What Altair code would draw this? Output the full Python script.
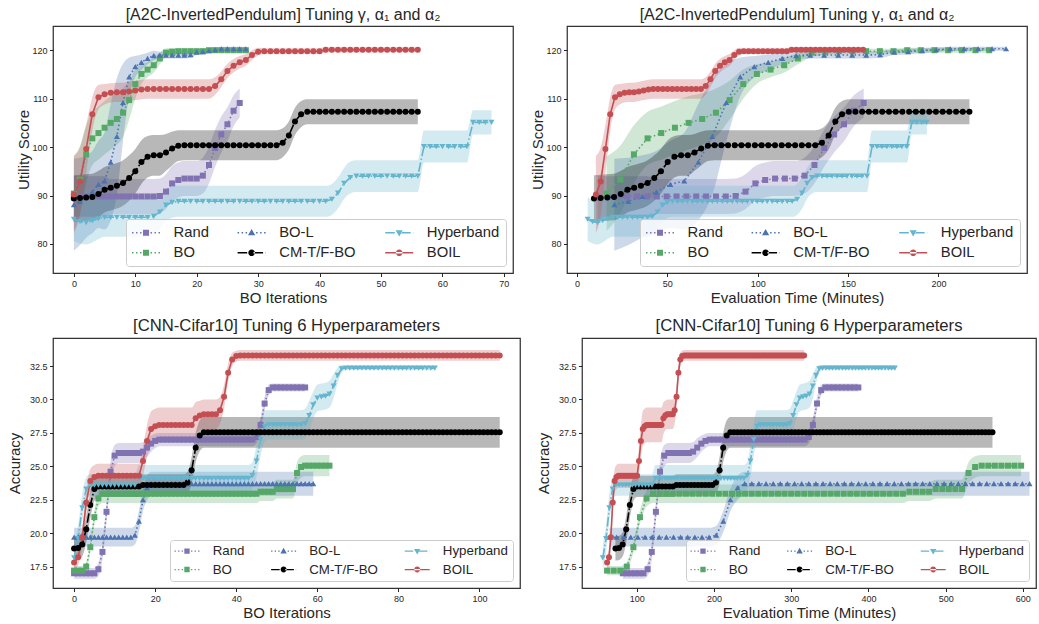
import altair as alt
import pandas as pd

FONT = "Liberation Sans"
INK = "#262626"

SERIES = ["Rand", "BO", "BO-L", "CM-T/F-BO", "Hyperband", "BOIL"]
COLORS = {"Rand": "#8172B2", "BO": "#55A868", "BO-L": "#4C72B0",
          "CM-T/F-BO": "#000000", "Hyperband": "#64B5CD", "BOIL": "#C44E52"}
MARKERS = {"Rand": "square", "BO": "square", "BO-L": "triangle-up",
           "CM-T/F-BO": "circle", "Hyperband": "triangle-down", "BOIL": "circle"}
DOT = [1.5, 2.5]
DASHDOT = [9.6, 2.4, 1.5, 2.4]
SOLID = [1, 0]
DASHES = {"Rand": DOT, "BO": DOT, "BO-L": DOT, "CM-T/F-BO": DASHDOT,
          "Hyperband": DASHDOT, "BOIL": SOLID}

# ---- values: (run length, mean, band half-width) ----
A2C_RAND = [(1, 89.6, 4.5), (5, 89.8, 4.2), (8, 89.8, 3.6), (1, 89.9, 3.6), (1, 90.8, 3.6),
            (1, 92.5, 3.6), (1, 93.2, 3.6), (3, 93.5, 3.6), (1, 94.1, 3.7), (1, 96.3, 3.8),
            (1, 99.8, 3.8), (1, 102.6, 3.7), (1, 104.7, 3.5), (1, 107.5, 3.2), (1, 109.1, 3.0)]
A2C_BO = [(1, 90.4, 7.7), (1, 93.3, 7.0), (1, 98.5, 6.0), (1, 101.8, 5.5), (1, 102.9, 5.5),
          (1, 104.0, 5.5), (1, 105.0, 5.5), (1, 105.8, 5.3), (1, 107.1, 5.0), (1, 109.7, 4.0),
          (1, 113.0, 3.0), (1, 115.1, 2.0), (1, 116.0, 1.6), (1, 116.9, 1.5), (1, 118.3, 1.2),
          (1, 119.5, 0.9), (1, 119.7, 0.7), (5, 119.8, 0.5), (7, 120.0, 0.5)]
A2C_BOL = [(1, 88.1, 9.5), (1, 88.8, 9.0), (1, 89.8, 8.5), (1, 90.7, 8.5), (1, 92.3, 9.0),
           (1, 93.0, 10.0), (1, 96.9, 12.0), (1, 102.2, 12.0), (1, 109.2, 8.0), (1, 114.5, 4.0),
           (1, 116.6, 2.2), (1, 117.5, 1.6), (1, 118.3, 1.2), (1, 118.9, 1.0), (5, 119.0, 0.7),
           (1, 119.1, 0.7), (1, 119.6, 0.6), (1, 119.7, 0.6), (1, 119.9, 0.5), (1, 120.1, 0.5),
           (5, 120.3, 0.4)]
A2C_CM = [(1, 89.4, 4.8), (1, 89.5, 4.8), (1, 89.6, 4.8), (1, 89.7, 4.8), (1, 90.3, 4.8),
          (1, 91.2, 4.7), (1, 91.6, 4.7), (1, 92.0, 4.7), (1, 92.6, 4.7), (1, 93.6, 4.7),
          (1, 95.0, 4.6), (1, 96.9, 4.5), (1, 98.0, 4.3), (2, 98.3, 4.2), (1, 98.9, 3.8),
          (1, 99.7, 3.5), (1, 100.3, 3.2), (16, 100.4, 3.1), (1, 100.9, 3.0), (1, 102.4, 2.9),
          (1, 105.3, 2.8), (1, 106.8, 2.7), (19, 107.3, 2.6)]
A2C_HB = [(1, 85.1, 4.5), (1, 84.6, 4.5), (1, 84.4, 4.5), (1, 84.8, 4.5), (1, 85.2, 4.2),
          (8, 85.5, 4.0), (1, 85.7, 3.8), (1, 86.6, 3.5), (1, 88.0, 3.3), (1, 88.6, 3.2),
          (25, 88.8, 3.2), (1, 89.2, 3.2), (1, 90.5, 3.2), (1, 92.5, 3.2), (1, 93.7, 3.3),
          (11, 94.0, 3.3), (8, 100.1, 3.3), (4, 105.1, 2.5)]
A2C_BOIL = [(1, 90.2, 8.0), (1, 92.9, 7.0), (1, 99.6, 5.0), (1, 106.8, 3.5), (1, 110.3, 2.5),
            (1, 110.9, 2.1), (1, 111.2, 2.0), (2, 111.3, 2.0), (1, 111.5, 2.0), (1, 111.7, 2.0),
            (1, 111.9, 2.0), (11, 112.0, 2.0), (1, 112.6, 1.8), (1, 114.0, 1.6), (1, 115.7, 1.5),
            (1, 116.8, 1.4), (1, 117.5, 1.3), (1, 118.0, 1.2), (1, 119.0, 1.0), (1, 119.7, 0.8),
            (10, 119.8, 0.6), (16, 120.1, 0.5)]

CNN_RAND = [(6, 17.0, 0.4), (1, 17.3, 0.5), (1, 18.6, 0.6), (1, 21.6, 0.7), (1, 24.6, 0.8),
            (1, 25.8, 0.8), (6, 26.0, 0.75), (1, 26.1, 0.7), (1, 26.4, 0.7), (1, 26.7, 0.6),
            (1, 26.9, 0.55), (24, 27.0, 0.5), (1, 27.2, 0.5), (1, 28.1, 0.55), (1, 29.7, 0.5),
            (1, 30.7, 0.4), (9, 30.9, 0.3)]
CNN_BO = [(3, 17.2, 0.35), (1, 17.5, 0.35), (1, 18.95, 0.4), (1, 21.2, 0.5), (1, 22.6, 0.6),
          (39, 22.95, 0.7), (4, 23.1, 0.7), (5, 23.3, 0.7), (1, 24.5, 0.8), (1, 24.95, 0.8),
          (7, 25.05, 0.8)]
CNN_BOL = [(15, 19.7, 0.7), (1, 19.85, 0.7), (1, 20.9, 0.8), (1, 22.5, 0.85), (1, 23.4, 0.9),
           (41, 23.7, 0.9)]
CNN_CM = [(1, 18.85, 0.9), (1, 18.9, 0.9), (1, 19.15, 0.9), (1, 20.3, 1.0), (1, 22.1, 1.0),
          (1, 23.3, 0.9), (11, 23.5, 0.8), (11, 23.6, 0.8), (1, 23.8, 0.8), (1, 24.7, 1.0),
          (1, 26.4, 1.1), (1, 27.3, 1.15), (74, 27.55, 1.15)]
CNN_HB = [(1, 18.15, 1.0), (1, 19.6, 1.0), (1, 21.9, 1.0), (1, 23.3, 0.9), (12, 23.6, 0.8),
          (28, 24.1, 1.0), (1, 24.3, 1.0), (1, 25.4, 1.2), (1, 27.0, 1.2), (1, 28.0, 1.2),
          (9, 28.1, 1.1), (1, 28.2, 1.1), (1, 28.8, 1.1), (1, 29.6, 1.0), (1, 30.1, 1.0),
          (1, 30.2, 1.0), (1, 30.25, 1.0), (1, 30.4, 1.0), (1, 31.0, 0.9), (1, 31.8, 0.6),
          (1, 32.3, 0.3), (23, 32.35, 0.15)]
CNN_BOIL = [(1, 17.8, 0.5), (1, 18.2, 0.6), (1, 19.7, 0.7), (1, 22.3, 0.8), (1, 23.9, 0.9),
            (1, 24.2, 0.9), (11, 24.3, 0.9), (1, 25.4, 1.1), (1, 26.9, 1.2), (1, 27.8, 1.3),
            (1, 28.0, 1.3), (9, 28.1, 1.3), (1, 28.6, 1.2), (1, 28.8, 1.1), (4, 28.9, 1.1),
            (1, 29.2, 1.0), (1, 30.2, 0.9), (1, 32.0, 0.7), (1, 33.0, 0.5), (1, 33.25, 0.4),
            (65, 33.3, 0.4)]

A2C = {"Rand": A2C_RAND, "BO": A2C_BO, "BO-L": A2C_BOL, "CM-T/F-BO": A2C_CM,
       "Hyperband": A2C_HB, "BOIL": A2C_BOIL}
CNN = {"Rand": CNN_RAND, "BO": CNN_BO, "BO-L": CNN_BOL, "CM-T/F-BO": CNN_CM,
       "Hyperband": CNN_HB, "BOIL": CNN_BOIL}

# evaluation time: minutes at first iteration and minutes per iteration
A2C_T0 = {"Rand": 11.5, "BO": 16.4, "BO-L": 20.7, "CM-T/F-BO": 9.4, "Hyperband": 5.9, "BOIL": 10.5}
A2C_DT = {"Rand": 5.45, "BO": 7.56, "BO-L": 7.74, "CM-T/F-BO": 3.71, "Hyperband": 2.76, "BOIL": 2.64}
CNN_T0 = {"Rand": 82.0, "BO": 61.6, "BO-L": 64.6, "CM-T/F-BO": 72.4, "Hyperband": 56.0, "BOIL": 61.6}
CNN_DT = {"Rand": 5.35, "BO": 8.51, "BO-L": 9.22, "CM-T/F-BO": 4.65, "Hyperband": 4.25, "BOIL": 2.43}


def build(segs_by_series, t0=None, dt=None):
    rows = []
    for s in SERIES:
        i = 0
        for n, v, hw in segs_by_series[s]:
            for _ in range(n):
                x = i if t0 is None else t0[s] + dt[s] * i
                rows.append(dict(series=s, x=x, y=v, lo=v - hw, hi=v + hw))
                i += 1
    return pd.DataFrame(rows)


# ---- legend glyphs: line style + marker as one filled path spanning x in [-2, 2] ----
def rects(segs, t=0.107):
    return " ".join(f"M{a:.3f},{-t} H{b:.3f} V{t} H{a:.3f} Z" for a, b in segs)


DOT_SEGS = [(s, s + 0.214) for s in (-2.0, -1.429, -0.857, 0.643, 1.214, 1.786)]
DASHDOT_SEGS = [(-2.0, -0.629), (0.271, 1.643), (1.971, 2.0)]
SOLID_SEGS = [(-2.0, 2.0)]
M_SQUARE = "M-0.429,-0.429 H0.429 V0.429 H-0.429 Z"
M_CIRCLE = "M-0.471,0 A0.471,0.471 0 1,0 0.471,0 A0.471,0.471 0 1,0 -0.471,0 Z"
M_TUP = "M0,-0.543 L0.514,0.357 L-0.514,0.357 Z"
M_TDOWN = "M0,0.543 L0.514,-0.357 L-0.514,-0.357 Z"
LEGEND_PATHS = {
    "Rand": rects(DOT_SEGS) + " " + M_SQUARE,
    "BO": rects(DOT_SEGS) + " " + M_SQUARE,
    "BO-L": rects(DOT_SEGS) + " " + M_TUP,
    "CM-T/F-BO": rects(DASHDOT_SEGS) + " " + M_CIRCLE,
    "Hyperband": rects(DASHDOT_SEGS) + " " + M_TDOWN,
    "BOIL": rects(SOLID_SEGS) + " " + M_CIRCLE,
}


def make_legend(font_size, sym_size, sym_off, lab_off, col_pad, row_pad, pad):
    return alt.Legend(title=None, orient="bottom-right", offset=7, columns=3, gridAlign="each",
                      labelFont=FONT, labelFontSize=font_size, labelColor=INK, labelLimit=400,
                      symbolSize=sym_size, symbolOffset=sym_off, labelOffset=lab_off,
                      symbolStrokeWidth=0, symbolOpacity=1,
                      columnPadding=col_pad, rowPadding=row_pad, padding=pad,
                      fillColor="rgba(255,255,255,0.8)", strokeColor="#cccccc",
                      cornerRadius=3)


def panel(df, title, title_size, xdom, xticks, xtitle, ydom, yticks, yfmt, ytitle, ytpad,
          w, h, legend):
    xs = alt.Scale(domain=xdom, nice=False, zero=False)
    ys = alt.Scale(domain=ydom, nice=False, zero=False)
    xax = alt.Axis(values=xticks, format="d", title=xtitle, titlePadding=2)
    yax = alt.Axis(values=yticks, format=yfmt, title=ytitle, titlePadding=ytpad)
    X = alt.X("x:Q", scale=xs, axis=xax)
    cscale = alt.Scale(domain=SERIES, range=[COLORS[s] for s in SERIES])
    C = alt.Color("series:N", scale=cscale, legend=None)
    base = alt.Chart(df)
    band = base.mark_area(opacity=0.28, interpolate="monotone", clip=True).encode(
        x=X, y=alt.Y("lo:Q", scale=ys, axis=yax), y2="hi:Q", color=C)
    line = base.mark_line(strokeWidth=1.6, clip=True).encode(
        x=X, y=alt.Y("y:Q", scale=ys, axis=yax), color=C,
        strokeDash=alt.StrokeDash("series:N", legend=None,
                                  scale=alt.Scale(domain=SERIES, range=[DASHES[s] for s in SERIES])))
    pts = base.mark_point(filled=True, size=36, opacity=1, clip=True).encode(
        x=X, y=alt.Y("y:Q", scale=ys, axis=yax), color=C,
        shape=alt.Shape("series:N", legend=None,
                        scale=alt.Scale(domain=SERIES, range=[MARKERS[s] for s in SERIES])))
    first = df.groupby("series", as_index=False).first()
    leg = alt.Chart(first).mark_point(filled=True, opacity=0).encode(
        x=X, y=alt.Y("y:Q", scale=ys, axis=yax),
        color=alt.Color("series:N", legend=legend,
                        scale=alt.Scale(domain=SERIES, range=[COLORS[s] for s in SERIES])),
        shape=alt.Shape("series:N", legend=legend,
                        scale=alt.Scale(domain=SERIES, range=[LEGEND_PATHS[s] for s in SERIES])))
    return alt.layer(band, line, pts, leg).resolve_scale(
        color="independent", shape="independent").properties(
        width=w, height=h, title=alt.TitleParams(title, fontSize=title_size))


A2C_TITLE = "[A2C-InvertedPendulum] Tuning γ, α₁ and α₂"
CNN_TITLE = "[CNN-Cifar10] Tuning 6 Hyperparameters"
A2C_Y = [80, 90, 100, 110, 120]
CNN_Y = [17.5, 20.0, 22.5, 25.0, 27.5, 30.0, 32.5]

top_leg = make_legend(14.8, 196, 6.6, 20.2, 28.6, 4.4, 6)
bot_leg = make_legend(13.3, 156, 5.85, 19.0, 26.6, 4.4, 4.5)

p1 = panel(build(A2C), A2C_TITLE, 16, [-3.4, 71.5], list(range(0, 71, 10)), "BO Iterations",
           [74, 125], A2C_Y, "d", "Utility Score", 0, 460, 247, top_leg)
p2 = panel(build(A2C, A2C_T0, A2C_DT), A2C_TITLE, 16, [-5.5, 249], [0, 50, 100, 150, 200],
           "Evaluation Time (Minutes)", [74, 125], A2C_Y, "d", "Utility Score", 0, 460, 247, top_leg)
p3 = panel(build(CNN), CNN_TITLE, 16.7, [-5.2, 110], list(range(0, 101, 20)), "BO Iterations",
           [15.9, 34.6], CNN_Y, ".1f", "Accuracy", 7, 467, 250, bot_leg)
p4 = panel(build(CNN, CNN_T0, CNN_DT), CNN_TITLE, 16.7, [29.1, 617.0], [100, 200, 300, 400, 500, 600],
           "Evaluation Time (Minutes)", [15.9, 34.6], CNN_Y, ".1f", "Accuracy", 7, 454, 250, bot_leg)

top = alt.hconcat(p1, p2, spacing=16)
bottom = alt.hconcat(p3, p4, spacing=14)

chart = alt.vconcat(top, bottom, spacing=11).properties(
    padding={"left": 6, "top": 6, "right": 0, "bottom": 0}
).configure(font=FONT).configure_view(
    stroke="#333333", strokeWidth=1.25
).configure_axis(
    domain=False, grid=False, ticks=True, tickSize=3.5, tickColor=INK, tickWidth=1,
    labelFont=FONT, labelFontSize=9, labelColor=INK, labelPadding=2.5,
    titleFont=FONT, titleFontSize=15, titleFontWeight="normal", titleColor=INK
).configure_title(
    font=FONT, fontWeight="normal", color=INK, anchor="middle", frame="group", offset=3
)

chart.save("out.html", embed_options={"renderer": "svg", "actions": False})
